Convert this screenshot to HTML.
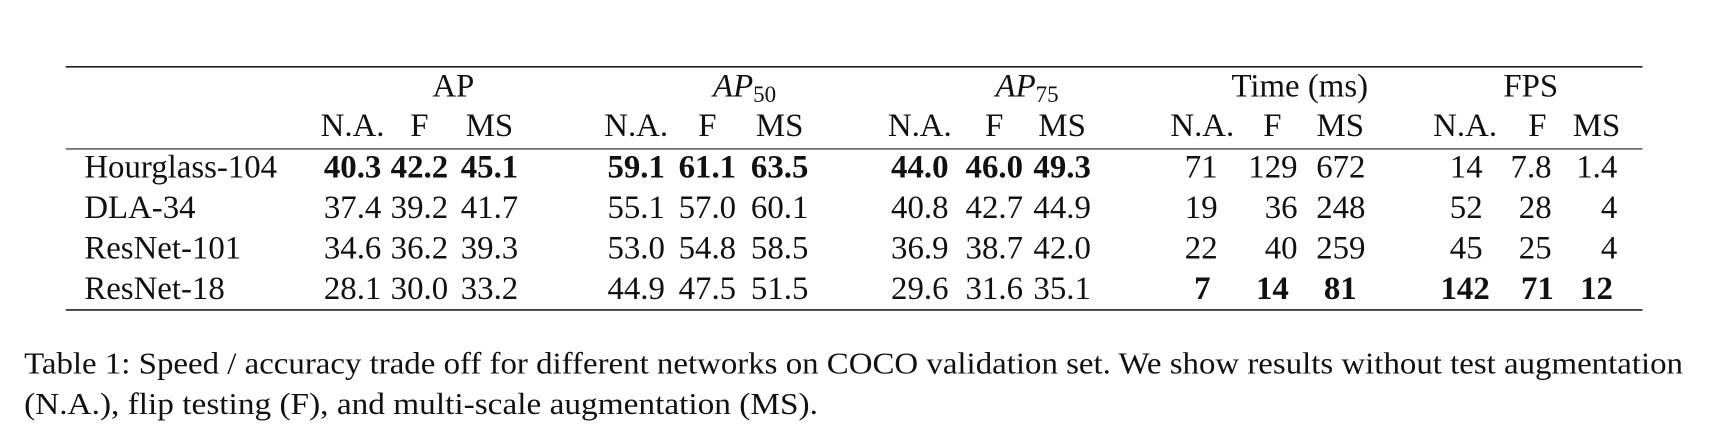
<!DOCTYPE html>
<html><head><meta charset="utf-8">
<style>
html,body{margin:0;padding:0;background:#fff;}
svg{display:block;}
text{font-family:"Liberation Serif",serif;fill:#111;}
</style></head>
<body>
<svg id="tbl" width="1716" height="444" viewBox="0 0 1716 444" xmlns="http://www.w3.org/2000/svg">
<g transform="scale(1.095)">
<line x1="60" y1="61" x2="1500" y2="61" stroke="#222" stroke-width="1.5"/>
<line x1="60" y1="136" x2="1500" y2="136" stroke="#222" stroke-width="1.1"/>
<line x1="60" y1="283" x2="1500" y2="283" stroke="#222" stroke-width="1.5"/>
<g id="cells"></g>
<text x="22" y="341" font-size="28" textLength="1515" lengthAdjust="spacingAndGlyphs">Table 1: Speed / accuracy trade off for different networks on COCO validation set. We show results without test augmentation</text>
<text x="22" y="378" font-size="28" textLength="725" lengthAdjust="spacingAndGlyphs">(N.A.), flip testing (F), and multi-scale augmentation (MS).</text>
</g>
</svg>
<script>
const groups = ["AP", "AP50", "AP75", "Time (ms)", "FPS"];
const subHeaders = ["N.A.", "F", "MS"];
const models = ["Hourglass-104", "DLA-34", "ResNet-101", "ResNet-18"];
const apValues = [["40.3","42.2","45.1"],["37.4","39.2","41.7"],["34.6","36.2","39.3"],["28.1","30.0","33.2"]];
const ap50Values = [["59.1","61.1","63.5"],["55.1","57.0","60.1"],["53.0","54.8","58.5"],["44.9","47.5","51.5"]];
const ap75Values = [["44.0","46.0","49.3"],["40.8","42.7","44.9"],["36.9","38.7","42.0"],["29.6","31.6","35.1"]];
const timeValues = [["71","129","672"],["19","36","248"],["22","40","259"],["7","14","81"]];
const fpsValues = [["14","7.8","1.4"],["52","28","4"],["45","25","4"],["142","71","12"]];
const boldRowForGroup = [0, 0, 0, 3, 3];

const NS = "http://www.w3.org/2000/svg";
const g = document.getElementById("cells");
const groupCenters = [414, 680, 938, 1187, 1398];
const colCenters = [[322,383,447],[581,646,712],[840,908,970],[1098,1162,1224],[1338,1404,1458]];
const colRight = [null,null,null,[1112,1185,1247],[1354,1417,1477]];
const rowY = [162, 199, 236, 273];
const FS = 30;
function mk(txt, x, y, anchor, bold) {
  const t = document.createElementNS(NS, "text");
  t.setAttribute("x", x); t.setAttribute("y", y);
  t.setAttribute("font-size", FS);
  t.setAttribute("text-anchor", anchor);
  if (bold) t.setAttribute("font-weight", "bold");
  t.textContent = txt;
  g.appendChild(t);
  return t;
}
groups.forEach((name, i) => {
  let t;
  if (name === "AP50" || name === "AP75") {
    t = document.createElementNS(NS, "text");
    t.setAttribute("x", groupCenters[i]); t.setAttribute("y", 88);
    t.setAttribute("font-size", FS); t.setAttribute("text-anchor", "middle");
    t.setAttribute("font-style", "italic");
    t.appendChild(document.createTextNode("AP"));
    const s = document.createElementNS(NS, "tspan");
    s.setAttribute("font-size", 21); s.setAttribute("font-style", "normal"); s.setAttribute("dy", 5);
    s.textContent = name.slice(2);
    t.appendChild(s);
    g.appendChild(t);
  } else {
    t = mk(name, groupCenters[i], 88, "middle", false);
  }
  
  
  subHeaders.forEach((sh, j) => {
    const h = mk(sh, colCenters[i][j], 124, "middle", false);
    
    
  });
});
const allValues = [apValues, ap50Values, ap75Values, timeValues, fpsValues];
models.forEach((m, r) => {
  const lbl = mk(m, 77, rowY[r], "start", false);
  
  
  allValues.forEach((vals, gi) => {
    vals[r].forEach((v, j) => {
      const bold = boldRowForGroup[gi] === r;
      let c;
      if (colRight[gi] && !bold) c = mk(v, colRight[gi][j], rowY[r], "end", false);
      else c = mk(v, colCenters[gi][j], rowY[r], "middle", bold);
      
      
    });
  });
});
</script>
</body></html>
